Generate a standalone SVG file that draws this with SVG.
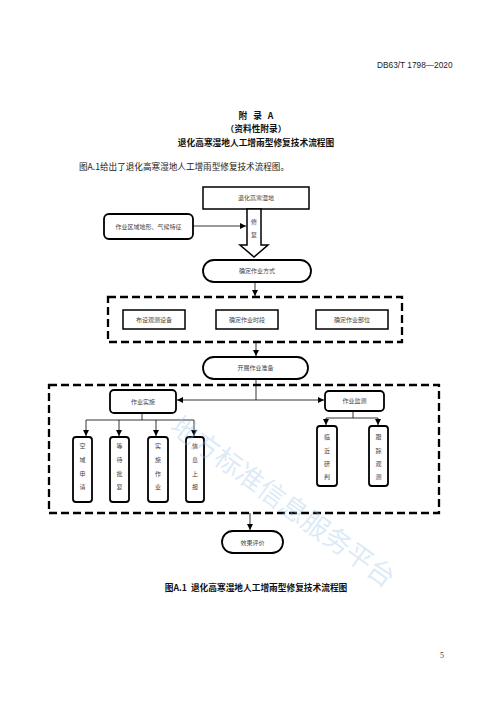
<svg xmlns="http://www.w3.org/2000/svg" width="500" height="707" viewBox="0 0 500 707">
<defs>
<marker id="ah" viewBox="0 0 10 10" refX="10" refY="5" markerWidth="6" markerHeight="6" markerUnits="userSpaceOnUse" orient="auto">
<path d="M0,0 L10,5 L0,10 Z" fill="#000"/>
</marker>
</defs>
<style>
.box{fill:#fff;stroke:#000;stroke-width:1.5}
.rbox{fill:#fff;stroke:#000;stroke-width:1.8}
.dash{fill:none;stroke:#000;stroke-width:2.3;stroke-dasharray:8 4}
.line{fill:none;stroke:#000;stroke-width:0.8}
.lbl{font-family:"Noto Sans CJK SC",sans-serif;font-size:6px;fill:#444;text-anchor:middle}
.hd{font-family:"Noto Sans CJK SC",sans-serif;font-size:8.7px;font-weight:bold;fill:#111;text-anchor:middle}
.body{font-family:"Noto Sans CJK SC",sans-serif;font-size:8.6px;fill:#222}
</style>
<rect width="500" height="707" fill="#fff"/>
<text x="377" y="68" font-family="Liberation Sans,sans-serif" font-size="8.3" fill="#222">DB63/T 1798—2020</text>
<text class="hd" x="256" y="119" xml:space="preserve">附   录   A</text>
<text class="hd" x="256" y="132" font-weight="normal">（资料性附录）</text>
<text class="hd" x="256" y="146">退化高寒湿地人工增雨型修复技术流程图</text>
<text class="body" x="79" y="170">图A.1给出了退化高寒湿地人工增雨型修复技术流程图。</text>

<g id="connectors">
<path d="M193,226 L246,226" class="line" marker-end="url(#ah)"/>
<path d="M255,282 L255,296" class="line" marker-end="url(#ah)"/>
<path d="M256,342 L256,356" class="line" marker-end="url(#ah)"/>
<path d="M256,379 L256,400" class="line"/>
<path d="M256,400 L177,400" class="line" marker-end="url(#ah)"/>
<path d="M256,400 L324,400" class="line" marker-end="url(#ah)"/>
<path d="M142,413 L142,420 M86,420 L194,420" class="line"/>
<path d="M86,420 L86,436" class="line" marker-end="url(#ah)"/>
<path d="M119,420 L119,436" class="line" marker-end="url(#ah)"/>
<path d="M156,420 L156,436" class="line" marker-end="url(#ah)"/>
<path d="M194,420 L194,436" class="line" marker-end="url(#ah)"/>
<path d="M353,411 L353,418 M326,418 L378,418" class="line"/>
<path d="M326,418 L326,425" class="line" marker-end="url(#ah)"/>
<path d="M378,418 L378,425" class="line" marker-end="url(#ah)"/>
<path d="M250,513 L250,530" class="line" marker-end="url(#ah)"/>
</g>

<g id="n-degraded">
<rect class="box" x="203" y="187" width="106" height="22"/>
<text class="lbl" x="256" y="200">退化高寒湿地</text>
</g>
<g id="n-restore-arrow">
<path d="M247,209 L261,209 L261,245 L268,245 L254,257 L240,245 L247,245 Z" fill="#fff" stroke="#000" stroke-width="1.5"/>
<text class="lbl" x="254" y="224">修</text>
<text class="lbl" x="254" y="237">复</text>
</g>
<g id="n-terrain">
<rect class="rbox" x="104" y="214" width="89" height="25" rx="5"/>
<text class="lbl" x="148.5" y="228.5">作业区域地形、气候特征</text>
</g>
<g id="n-mode">
<rect class="rbox" x="203" y="260" width="108" height="22" rx="11"/>
<text class="lbl" x="257" y="273">确定作业方式</text>
</g>
<g id="g-plan">
<rect class="dash" x="108" y="297" width="294" height="45"/>
</g>
<g id="n-equip">
<rect class="box" x="123" y="310" width="62" height="19"/>
<text class="lbl" x="154" y="322">布设观测设备</text>
</g>
<g id="n-time">
<rect class="box" x="216" y="310" width="62" height="19"/>
<text class="lbl" x="247" y="322">确定作业时段</text>
</g>
<g id="n-site">
<rect class="box" x="316" y="310" width="72" height="19"/>
<text class="lbl" x="352" y="322">确定作业部位</text>
</g>
<g id="n-prep">
<rect class="rbox" x="203" y="357" width="105" height="22" rx="11"/>
<text class="lbl" x="255.5" y="370">开展作业准备</text>
</g>
<g id="g-exec">
<rect class="dash" x="49" y="385" width="390" height="128"/>
</g>
<g id="n-impl">
<rect class="rbox" x="110" y="390" width="66" height="23" rx="4"/>
<text class="lbl" x="143" y="403.5">作业实施</text>
</g>
<g id="n-monitor">
<rect class="rbox" x="325" y="391" width="59" height="20" rx="4"/>
<text class="lbl" x="354.5" y="403">作业监测</text>
</g>
<g id="n-airspace">
<rect class="rbox" x="73" y="437" width="19" height="65" rx="3"/>
<text class="lbl" x="82.5"><tspan x="82.5" y="448">空</tspan><tspan x="82.5" y="462">域</tspan><tspan x="82.5" y="476">申</tspan><tspan x="82.5" y="489">请</tspan></text>
</g>
<g id="n-wait">
<rect class="rbox" x="110" y="437" width="19" height="65" rx="3"/>
<text class="lbl" x="119.5"><tspan x="119.5" y="448">等</tspan><tspan x="119.5" y="462">待</tspan><tspan x="119.5" y="476">批</tspan><tspan x="119.5" y="489">复</tspan></text>
</g>
<g id="n-do">
<rect class="rbox" x="148" y="437" width="20" height="65" rx="3"/>
<text class="lbl" x="158"><tspan x="158" y="448">实</tspan><tspan x="158" y="462">施</tspan><tspan x="158" y="476">作</tspan><tspan x="158" y="489">业</tspan></text>
</g>
<g id="n-report">
<rect class="rbox" x="186" y="437" width="18" height="65" rx="3"/>
<text class="lbl" x="195"><tspan x="195" y="448">信</tspan><tspan x="195" y="462">息</tspan><tspan x="195" y="476">上</tspan><tspan x="195" y="489">报</tspan></text>
</g>
<g id="n-nowcast">
<rect class="rbox" x="317" y="426" width="20" height="60" rx="3"/>
<text class="lbl" x="327"><tspan x="327" y="439">临</tspan><tspan x="327" y="453">近</tspan><tspan x="327" y="466">研</tspan><tspan x="327" y="479">判</tspan></text>
</g>
<g id="n-track">
<rect class="rbox" x="369" y="426" width="19" height="60" rx="3"/>
<text class="lbl" x="378.5"><tspan x="378.5" y="439">跟</tspan><tspan x="378.5" y="453">踪</tspan><tspan x="378.5" y="466">观</tspan><tspan x="378.5" y="479">测</tspan></text>
</g>
<g id="n-eval">
<rect class="rbox" x="222" y="531" width="61" height="22" rx="11"/>
<text class="lbl" x="252.5" y="544.5">效果评价</text>
</g>

<text class="hd" x="256" y="591" font-size="9" xml:space="preserve">图A.1  退化高寒湿地人工增雨型修复技术流程图</text>
<text x="440" y="658" font-family="Liberation Serif,serif" font-size="8" fill="#444">5</text>
<text x="0" y="0" font-family="Noto Sans CJK SC,sans-serif" font-size="27" fill="#9cc3ea" fill-opacity="0.35" transform="translate(168,430) rotate(36)">地方标准信息服务平台</text>
</svg>
